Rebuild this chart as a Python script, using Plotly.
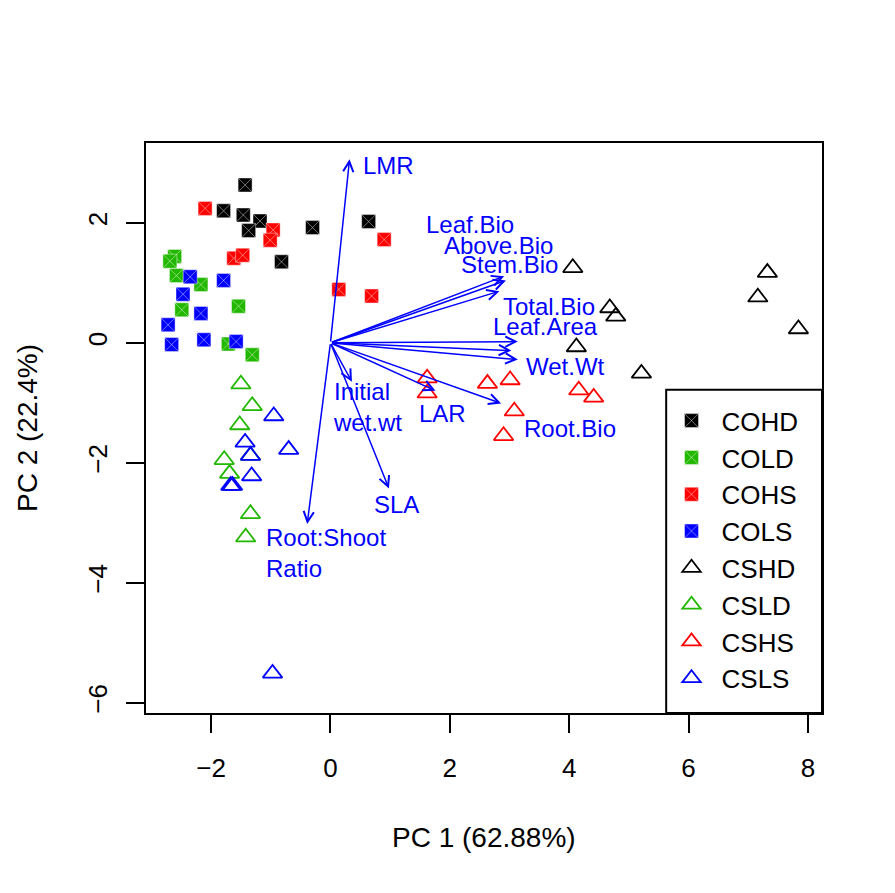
import plotly.graph_objects as go

# sample scores (PC1, PC2) per treatment group
groups = ["COHD", "COLD", "COHS", "COLS", "CSHD", "CSLD", "CSHS", "CSLS"]

pc1_COHD = [-1.43, -1.79, -1.46, -1.18, -1.37, -0.82, -0.30, 0.64]
pc2_COHD = [2.63, 2.20, 2.13, 2.03, 1.87, 1.35, 1.92, 2.02]
pc1_COLD = [-2.61, -2.69, -2.58, -2.17, -2.49, -1.54, -1.71, -1.31]
pc2_COLD = [1.44, 1.36, 1.12, 0.97, 0.55, 0.61, -0.02, -0.20]
pc1_COHS = [-2.10, -0.96, -1.01, -1.62, -1.47, 0.14, 0.69, 0.90]
pc2_COHS = [2.24, 1.88, 1.71, 1.41, 1.46, 0.89, 0.78, 1.72]
pc1_COLS = [-2.35, -1.79, -2.47, -2.17, -2.72, -2.66, -2.12, -1.58]
pc2_COLS = [1.10, 1.04, 0.81, 0.49, 0.30, -0.03, 0.05, 0.02]
pc1_CSHD = [4.06, 4.68, 4.78, 4.12, 5.21, 7.32, 7.16, 7.84]
pc2_CSHD = [1.25, 0.58, 0.44, -0.07, -0.51, 1.17, 0.76, 0.23]
pc1_CSLD = [-1.50, -1.31, -1.52, -1.34, -1.78, -1.69, -1.34, -1.42]
pc2_CSLD = [-0.69, -1.05, -1.37, -1.88, -1.95, -2.18, -2.85, -3.24]
pc1_CSHS = [1.62, 1.62, 2.63, 3.01, 4.16, 4.41, 3.08, 2.90]
pc2_CSHS = [-0.59, -0.84, -0.68, -0.62, -0.79, -0.91, -1.14, -1.55]
pc1_CSLS = [-0.95, -0.70, -1.43, -1.34, -1.32, -1.67, -1.64, -0.97]
pc2_CSLS = [-1.22, -1.78, -1.66, -1.88, -2.22, -2.38, -2.38, -5.51]

# variable loadings (arrow tips)
var_names = ["LMR", "Leaf.Bio", "Above.Bio", "Stem.Bio", "Total.Bio", "Leaf.Area",
             "Wet.Wt", "LAR", "Root.Bio", "Initial<br>wet.wt", "SLA", "Root:Shoot<br>Ratio"]
load_pc1 = [0.32, 2.91, 2.94, 2.83, 3.14, 3.03, 3.14, 1.76, 2.86, 0.36, 0.98, -0.39]
load_pc2 = [3.06, 1.11, 1.04, 0.86, 0.02, -0.13, -0.28, -0.80, -1.01, -0.65, -2.43, -3.02]

x_ticks = [-2, 0, 2, 4, 6, 8]
y_ticks = [-6, -4, -2, 0, 2]

# where each variable label sits (left edge, middle)
label_pos = [(0.52, 2.96), (1.57, 1.98), (1.87, 1.63), (2.16, 1.30), (2.85, 0.60),
             (2.69, 0.27), (3.25, -0.40), (1.45, -1.17), (3.21, -1.43),
             (0.01, -1.075), (0.70, -2.69), (-1.12, -3.505)]

pc1 = [pc1_COHD, pc1_COLD, pc1_COHS, pc1_COLS, pc1_CSHD, pc1_CSLD, pc1_CSHS, pc1_CSLS]
pc2 = [pc2_COHD, pc2_COLD, pc2_COHS, pc2_COLS, pc2_CSHD, pc2_CSLD, pc2_CSHS, pc2_CSLS]

green = "#22B800"
colors = ["black", green, "red", "blue", "black", green, "red", "blue"]
font = "Liberation Sans, Arial, sans-serif"

fig = go.Figure()

for g, xs, ys, c in zip(groups, pc1, pc2, colors):
    if g.startswith("CO"):
        marker = dict(symbol="square-x", size=14, color=c,
                      line=dict(color="rgba(255,255,255,0.55)", width=0.8))
    else:
        marker = dict(symbol="triangle-up-open", size=17, color=c,
                      line=dict(color=c, width=1.8))
    fig.add_trace(go.Scatter(x=xs, y=ys, mode="markers", name=g, marker=marker))

# arrows from the origin
for vx, vy in zip(load_pc1, load_pc2):
    fig.add_annotation(x=vx, y=vy, ax=0, ay=0, xref="x", yref="y", axref="x", ayref="y",
                       text="", showarrow=True, arrowhead=5, arrowsize=1.35,
                       arrowwidth=1.5, arrowcolor="blue", standoff=0, startstandoff=0)

for name, (lx, ly) in zip(var_names, label_pos):
    fig.add_annotation(x=lx, y=ly, xref="x", yref="y", text=name, showarrow=False,
                       xanchor="left", yanchor="middle", align="left",
                       font=dict(family=font, size=24, color="blue"))

# axis titles
fig.add_annotation(x=0.5, y=-0.219, xref="paper", yref="paper", text="PC 1 (62.88%)",
                   showarrow=False, xanchor="center", yanchor="middle",
                   font=dict(family=font, size=28, color="black"))
fig.add_annotation(x=-0.176, y=0.5, xref="paper", yref="paper", text="PC 2 (22.4%)",
                   showarrow=False, xanchor="center", yanchor="middle", textangle=-90,
                   font=dict(family=font, size=28, color="black"))

# legend frame
fig.add_shape(type="rect", xref="paper", yref="paper", x0=0.7695, x1=1.0, y0=0.0, y1=0.567,
              line=dict(color="black", width=2), fillcolor="white", layer="above")

axis_style = dict(showgrid=False, zeroline=False, showline=True, mirror=True,
                  linecolor="black", linewidth=2, ticks="outside", ticklen=18,
                  tickwidth=2, tickcolor="black",
                  tickfont=dict(family=font, size=26, color="black"))

fig.update_xaxes(range=[-3.09, 8.235], tickvals=x_ticks, ticklabelstandoff=13, **axis_style)
fig.update_yaxes(range=[-6.17, 3.33], tickvals=y_ticks, tickangle=-90,
                 ticklabelstandoff=9, **axis_style)

# page body keeps an 8px margin, so the figure is 8px smaller
fig.update_layout(
    width=887, height=885,
    margin=dict(l=138, r=73, t=135, b=180),
    plot_bgcolor="white", paper_bgcolor="white",
    font=dict(family=font, color="black"),
    legend=dict(x=0.7626, y=0.554, xanchor="left", yanchor="top",
                bgcolor="rgba(0,0,0,0)", borderwidth=0, itemwidth=50,
                font=dict(family=font, size=26, color="black")),
)

fig.write_html("out.html")
